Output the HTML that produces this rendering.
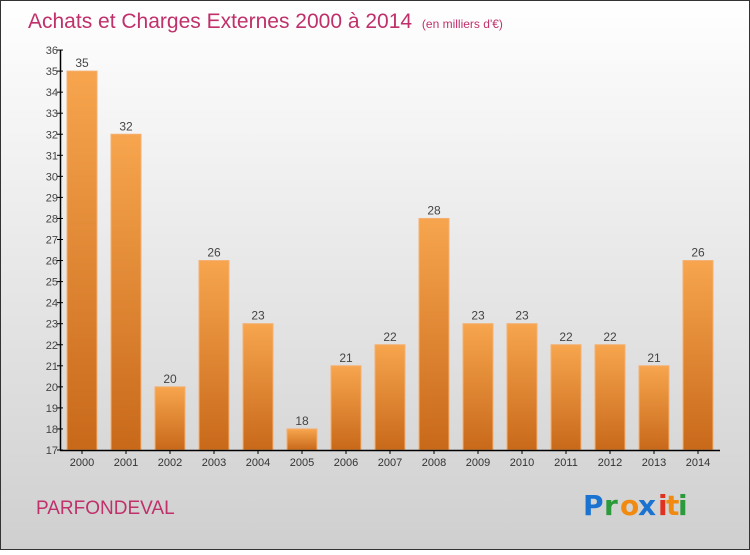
<!DOCTYPE html>
<html><head><meta charset="utf-8"><style>
html,body{margin:0;padding:0}
body{width:750px;height:550px;overflow:hidden;font-family:"Liberation Sans",sans-serif}
</style></head><body>
<svg width="750" height="550" xmlns="http://www.w3.org/2000/svg">
<defs>
<linearGradient id="bg" x1="0" y1="0" x2="0" y2="1"><stop offset="0" stop-color="#ffffff"/><stop offset="1" stop-color="#cfcfcf"/></linearGradient>
<linearGradient id="bar" x1="0" y1="0" x2="0" y2="1"><stop offset="0" stop-color="#f7a54e"/><stop offset="1" stop-color="#c8691a"/></linearGradient>
</defs>
<rect x="0.5" y="0.5" width="749" height="549" fill="url(#bg)" stroke="#333"/>
<text x="28" y="28" font-size="21" fill="#c0306a">Achats et Charges Externes 2000 à 2014 <tspan font-size="12" dx="4">(en milliers d'€)</tspan></text>
<g id="yaxis"></g>
<g id="bars"></g>
<g id="xaxis"></g>
<text x="36" y="514" font-size="19" fill="#c0306a">PARFONDEVAL</text>
<g font-size="28" font-weight="bold" font-family="'DejaVu Sans',sans-serif">
<text x="583" y="515" fill="#1a73d0">P</text><text x="604" y="515" fill="#2a9a3a">r</text><text x="620" y="515" fill="#f08a10">o</text><text x="638" y="515" fill="#1a73d0">x</text><text x="658" y="515" fill="#e03020">i</text><text x="666" y="515" fill="#f08a10">t</text><text x="678" y="515" fill="#2a9a3a">i</text>
</g>
</svg>
<script>
const categories=["2000","2001","2002","2003","2004","2005","2006","2007","2008","2009","2010","2011","2012","2013","2014"];
const values=[35,32,20,26,23,18,21,22,28,23,23,22,22,21,26];
const yTicks=[17,18,19,20,21,22,23,24,25,26,27,28,29,30,31,32,33,34,35,36];
const NS="http://www.w3.org/2000/svg";
const y=v=>450-(v-17)*21.05;
const x=i=>67+i*44;
function mk(t,a,p,txt){const e=document.createElementNS(NS,t);for(const k in a)e.setAttribute(k,a[k]);if(txt!=null)e.textContent=txt;p.appendChild(e);return e;}
const ya=document.getElementById('yaxis'),ba=document.getElementById('bars'),xa=document.getElementById('xaxis');
values.forEach((v,i)=>{
 const r=mk('rect',{x:x(i),y:y(v),width:30,height:450-y(v),fill:'url(#bar)',stroke:'#f4b070','stroke-width':1},ba);
 
 
 const t=mk('text',{x:x(i)+15,y:y(v)-4,'text-anchor':'middle','font-size':12,fill:'#444'},ba,String(v));
 
 
 const c=mk('text',{x:x(i)+15,y:466,'text-anchor':'middle','font-size':11,fill:'#333'},xa,categories[i]);
 
 
 mk('line',{x1:x(i)+15,x2:x(i)+15,y1:450,y2:454,stroke:'#000'},xa);
});
yTicks.forEach(v=>{
 mk('line',{x1:57,x2:63,y1:y(v),y2:y(v),stroke:'#000'},ya);
 const t=mk('text',{x:58,y:y(v)+4,'text-anchor':'end','font-size':11,fill:'#444'},ya,String(v));
 
 
});
mk('line',{x1:60.5,x2:60.5,y1:y(36),y2:450,stroke:'#000','stroke-width':1.5},ya);
mk('line',{x1:60,x2:720,y1:450.5,y2:450.5,stroke:'#000','stroke-width':1.5},xa);
</script>
</body></html>
